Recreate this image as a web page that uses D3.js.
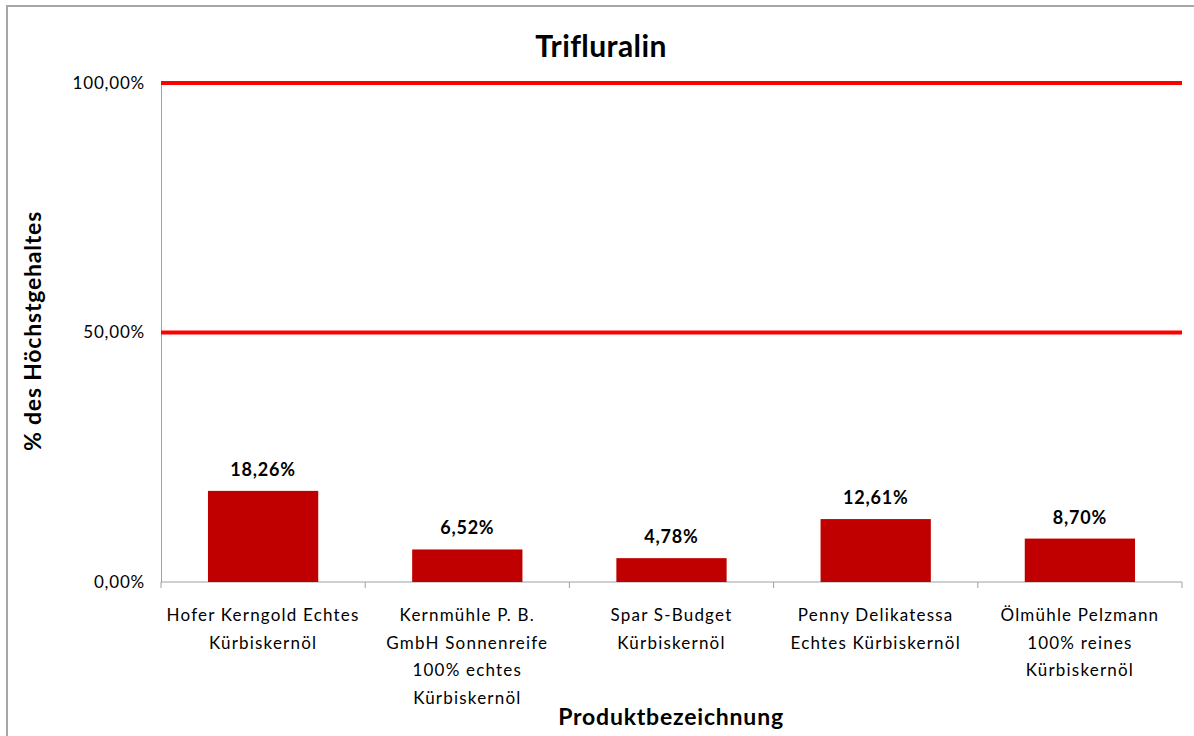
<!DOCTYPE html>
<html>
<head>
<meta charset="utf-8">
<script src="https://cdn.jsdelivr.net/npm/d3@7"></script>
<style>
  body { margin: 0; background: #fff; }
  svg { display: block; font-family: Lato, "Open Sans", sans-serif; }
</style>
</head>
<body>
<svg id="chart" width="1194" height="736"></svg>
<script>
// data ------------------------------------------------------------------------
let products = [
    ['Hofer Kerngold Echtes', 'Kürbiskernöl'],
    ['Kernmühle P. B.', 'GmbH Sonnenreife', '100% echtes', 'Kürbiskernöl'],
    ['Spar S-Budget', 'Kürbiskernöl'],
    ['Penny Delikatessa', 'Echtes Kürbiskernöl'],
    ['Ölmühle Pelzmann', '100% reines', 'Kürbiskernöl']
];
let values = [18.26, 6.52, 4.78, 12.61, 8.70];
let yTicks = [0, 50, 100];
let limitLines = [50, 100];

let svg = d3.select('#chart');
let fmt = (v) => v.toFixed(2).replace('.', ',') + '%';

// frame
svg.append('rect')
    .attr('x', 7).attr('y', 6)
    .attr('width', 1200).attr('height', 760)
    .attr('fill', 'none')
    .attr('stroke', '#a6a6a6')
    .attr('stroke-width', 2);

let x = d3.scaleBand()
    .domain(d3.range(products.length))
    .range([161, 1182])
    .paddingInner(0.46)
    .paddingOuter(0.23);
let y = d3.scaleLinear().domain([0, 100]).range([582, 83]);

// title
svg.append('text')
    .attr('x', 601).attr('y', 57)
    .attr('text-anchor', 'middle')
    .attr('font-size', 30).attr('font-weight', 'bold')
    .attr('letter-spacing', 0.4)
    .text('Trifluralin');

// y axis
let yAxis = d3.axisLeft(y).tickValues(yTicks).tickSize(0).tickPadding(16).tickFormat(fmt);
let gy = svg.append('g').attr('transform', 'translate(161,0)').call(yAxis);
gy.select('.domain').attr('stroke', '#a0a0a0');
gy.selectAll('text')
    .attr('font-size', 17)
    .attr('letter-spacing', 0.8)
    .attr('font-family', 'Lato, sans-serif')
    .attr('fill', '#000');

// red limit lines
svg.selectAll('.limit')
    .data(limitLines)
    .enter().append('line')
    .attr('class', 'limit')
    .attr('x1', 161).attr('x2', 1182)
    .attr('y1', (d) => y(d)).attr('y2', (d) => y(d))
    .attr('stroke', '#ff0000')
    .attr('stroke-width', 4);

// x axis line + category separators
svg.append('line')
    .attr('x1', 161).attr('x2', 1182)
    .attr('y1', y(0)).attr('y2', y(0))
    .attr('stroke', '#a0a0a0');
let step = (1182 - 161) / products.length;
svg.selectAll('.sep')
    .data(d3.range(products.length + 1))
    .enter().append('line')
    .attr('x1', (i) => 161 + i * step).attr('x2', (i) => 161 + i * step)
    .attr('y1', y(0)).attr('y2', y(0) + 6)
    .attr('stroke', '#a0a0a0');

// bars
svg.selectAll('.bar')
    .data(values)
    .enter().append('rect')
    .attr('class', 'bar')
    .attr('x', (d, i) => x(i))
    .attr('width', x.bandwidth())
    .attr('y', (d) => y(d))
    .attr('height', (d) => y(0) - y(d))
    .attr('fill', '#c00000');

// value labels
svg.selectAll('.val')
    .data(values)
    .enter().append('text')
    .attr('x', (d, i) => x(i) + x.bandwidth() / 2)
    .attr('y', (d) => y(d) - 15)
    .attr('text-anchor', 'middle')
    .attr('font-size', 18).attr('font-weight', 'bold')
    .attr('letter-spacing', 0.8)
    .text(fmt);

// category labels
products.forEach((lines, i) => {
    let t = svg.append('text')
        .attr('text-anchor', 'middle')
        .attr('font-size', 17)
        .attr('letter-spacing', 1.2);
    lines.forEach((l, j) => {
        t.append('tspan')
            .attr('x', x(i) + x.bandwidth() / 2)
            .attr('y', 621 + j * 27.7)
            .text(l);
    });
});

// axis titles
svg.append('text')
    .attr('x', 671).attr('y', 725)
    .attr('text-anchor', 'middle')
    .attr('font-size', 23).attr('font-weight', 'bold')
    .attr('letter-spacing', 0.8)
    .text('Produktbezeichnung');

svg.append('text')
    .attr('transform', 'translate(41,331) rotate(-90)')
    .attr('text-anchor', 'middle')
    .attr('font-size', 23).attr('font-weight', 'bold')
    .attr('letter-spacing', 0.8)
    .text('% des Höchstgehaltes');
</script>
</body>
</html>
